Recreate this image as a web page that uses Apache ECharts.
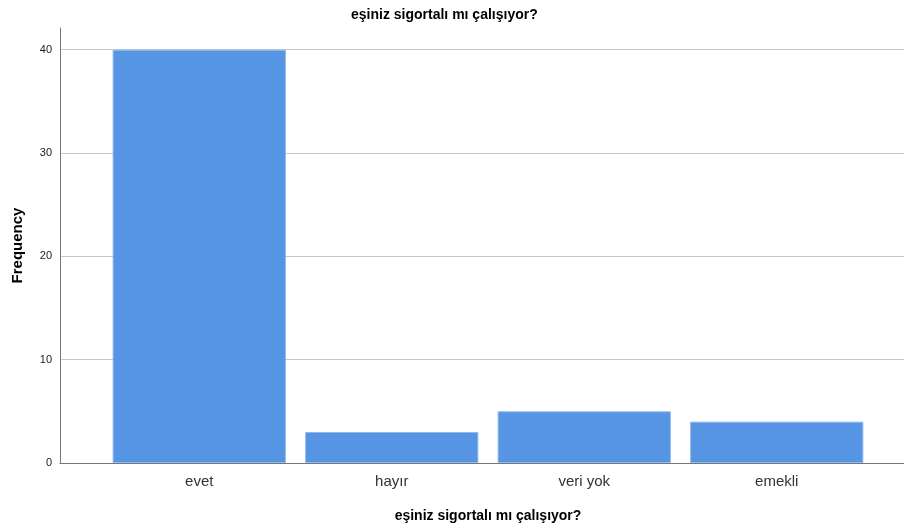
<!DOCTYPE html>
<html>
<head>
<meta charset="utf-8">
<script src="https://cdn.jsdelivr.net/npm/echarts@6/dist/echarts.min.js"></script>
<style>
  html, body { margin: 0; padding: 0; background: #fff; }
  #chart { width: 904px; height: 532px; }
</style>
</head>
<body>
<div id="chart"></div>
<script>
// data
const categories = ["evet", "hayır", "veri yok", "emekli"];
const frequencies = [40, 3, 5, 4];
const yTicks = [0, 10, 20, 30, 40];

const FONT = "Liberation Sans, Arial, sans-serif";
const Y_MAX = 42.1;

const chart = echarts.init(document.getElementById("chart"));
chart.setOption({
  animation: false,
  title: {
    text: "eşiniz sigortalı mı çalışıyor?",
    left: 346,
    top: 3,
    textStyle: { fontFamily: FONT, fontSize: 14, fontWeight: "bold", color: "#000" },
  },
  grid: [
    // axes frame + gridlines
    { left: 60, right: 0, top: 28, bottom: 69, outerBoundsMode: "none", containLabel: false },
    // bars sit in a narrower band, like the original
    { left: 103, right: 31, top: 28, bottom: 69, outerBoundsMode: "none", containLabel: false },
  ],
  xAxis: [
    {
      type: "category",
      gridIndex: 0,
      data: categories,
      axisLine: { show: true, lineStyle: { color: "#777", width: 1 } },
      axisTick: { show: false },
      axisLabel: { show: false },
    },
    {
      type: "category",
      gridIndex: 1,
      data: categories,
      axisLine: { show: false },
      axisTick: { show: false },
      axisLabel: { margin: 11, fontFamily: FONT, fontSize: 15, color: "#333" },
      name: "eşiniz sigortalı mı çalışıyor?",
      nameLocation: "middle",
      nameGap: 46,
      nameTextStyle: { fontFamily: FONT, fontSize: 14, fontWeight: "bold", color: "#000" },
    },
  ],
  yAxis: [
    {
      type: "value",
      gridIndex: 0,
      min: 0,
      max: Y_MAX,
      interval: 10,
      axisLine: { show: true, lineStyle: { color: "#777", width: 1 } },
      axisTick: { show: false },
      axisLabel: {
        margin: 8,
        fontFamily: FONT,
        fontSize: 11,
        color: "#222",
        formatter: (v) => (yTicks.includes(v) ? String(v) : ""),
      },
      splitLine: {
        show: true,
        showMinLine: false,
        showMaxLine: false,
        lineStyle: { color: "#c8c8c8", width: 1 },
      },
      name: "Frequency",
      nameLocation: "middle",
      nameGap: 35,
      nameTextStyle: { fontFamily: FONT, fontSize: 15, fontWeight: "bold", color: "#000" },
    },
    {
      type: "value",
      gridIndex: 1,
      min: 0,
      max: Y_MAX,
      interval: 10,
      show: false,
      splitLine: { show: false },
    },
  ],
  series: [
    {
      type: "bar",
      xAxisIndex: 1,
      yAxisIndex: 1,
      data: frequencies,
      barCategoryGap: "10%",
      itemStyle: { color: "#5595e4", borderColor: "#8fb8ee", borderWidth: 1 },
    },
  ],
});
</script>
</body>
</html>
